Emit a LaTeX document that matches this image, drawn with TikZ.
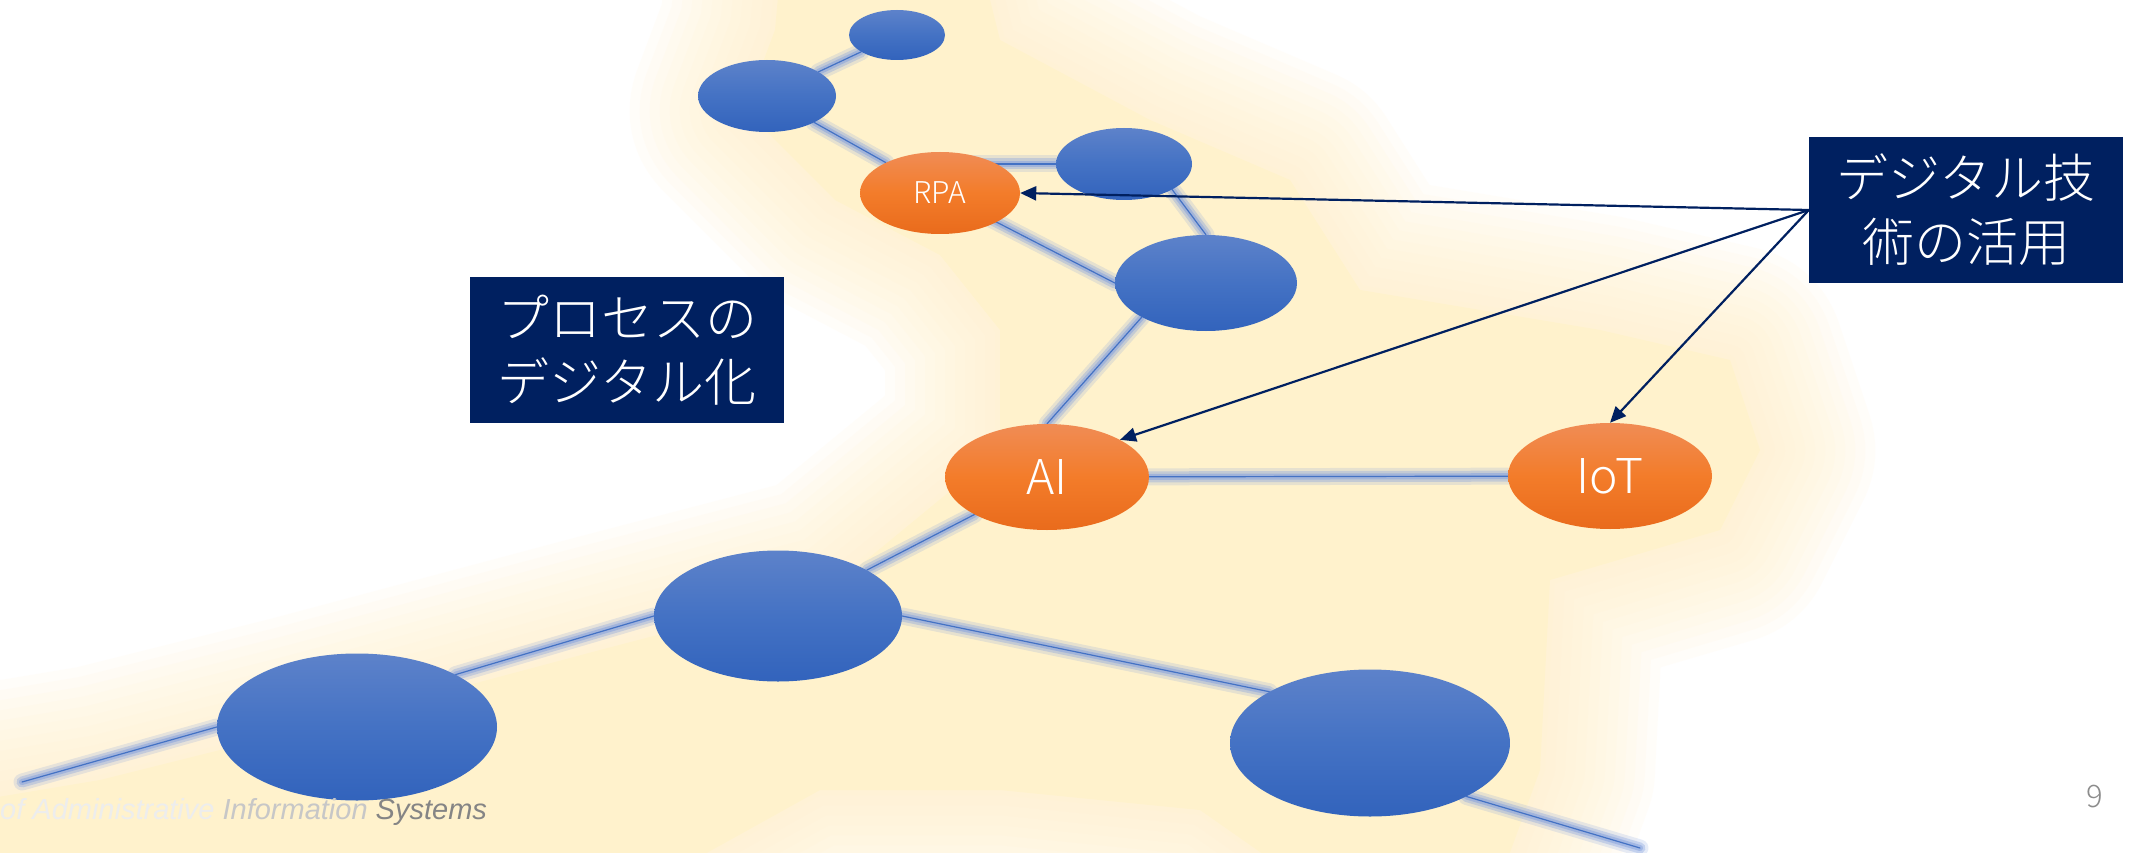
\documentclass[tikz,border=0pt]{standalone}
\usepackage{fontspec}
\setmainfont{Noto Sans CJK JP}[UprightFont=* Light]
\newfontfamily\footfont{Liberation Sans}
\usetikzlibrary{arrows.meta,shapes.geometric}
\definecolor{navy}{RGB}{0,32,96}
\definecolor{bluetop}{RGB}{93,130,202}
\definecolor{bluemid}{RGB}{68,114,196}
\definecolor{bluebot}{RGB}{50,99,188}
\definecolor{orgtop}{RGB}{240,140,85}
\definecolor{orgmid}{RGB}{243,124,42}
\definecolor{orgbot}{RGB}{233,107,28}
\definecolor{glowy}{RGB}{255,242,204}
\definecolor{glowb}{RGB}{130,160,222}
\definecolor{linkc}{RGB}{68,114,196}
\pgfdeclarelayer{glow}
\pgfdeclarelayer{edges}
\pgfsetlayers{glow,edges,main}
\def\glowpath{(-80,900) -- (-80,810) -- (100,780) -- (300,730) -- (600,650) -- (830,590) -- (1000,450) -- (1000,330) -- (940,255) -- (835,200) -- (745,110) -- (775,30) -- (785,-80) -- (970,-80) -- (1000,40) -- (1150,120) -- (1290,180) -- (1360,290) -- (1600,330) -- (1730,360) -- (1760,450) -- (1720,530) -- (1550,580) -- (1540,770) -- (1500,880) -- (1300,880) -- (1200,810) -- (1000,790) -- (820,790) -- (640,890) -- cycle}
\begin{document}
\begin{tikzpicture}[x=1pt, y=-1pt,
	blob/.style={ellipse, inner sep=0pt, top color=bluetop, bottom color=bluebot, middle color=bluemid},
	hot/.style={ellipse, inner sep=0pt, top color=orgtop, bottom color=orgbot, middle color=orgmid, text=white, minimum width=204pt, minimum height=106pt, font=\fontsize{48}{48}\selectfont},
	link/.style={draw=linkc, line width=1.2pt, line cap=round,
		preaction={draw=glowb, line width=17pt, line cap=round, draw opacity=0.2},
		preaction={draw=glowb, line width=11pt, line cap=round, draw opacity=0.35},
		preaction={draw=glowb, line width=6pt, line cap=round, draw opacity=0.5}},
	tag/.style={fill=navy, text=white, minimum width=314pt, minimum height=146pt, inner sep=0pt, align=center, font=\fontsize{52}{64}\selectfont},
	pointer/.style={draw=navy, line width=2.2pt, -{Triangle[length=16pt,width=14pt]}}]
	\useasboundingbox (0,0) rectangle (2139,853);
	\begin{pgfonlayer}{glow}
		\fill[white] (0,0) rectangle (2139,853);
		\foreach \w in {230,210,...,10} {
			\draw[glowy, line width=\w pt, line join=round, opacity=0.1] \glowpath;
		}
		\fill[glowy] \glowpath;
	\end{pgfonlayer}

	\node[blob, minimum width=96pt, minimum height=50pt] (top) at (897,35) {};
	\node[blob, minimum width=138pt, minimum height=72pt] (n2) at (767,96) {};
	\node[hot, minimum width=160pt, minimum height=82pt, font=\fontsize{30}{30}\selectfont] (rpa) at (940,193) {RPA};
	\node[blob, minimum width=136pt, minimum height=72pt] (n4) at (1124,164) {};
	\node[blob, minimum width=182pt, minimum height=96pt] (n5) at (1206,283) {};
	\node[hot] (ai) at (1047,477) {AI};
	\node[hot] (iot) at (1610,476) {IoT};
	\node[blob, minimum width=248pt, minimum height=131pt] (n8) at (778,616) {};
	\node[blob, minimum width=280pt, minimum height=147pt] (n9) at (357,727) {};
	\node[blob, minimum width=280pt, minimum height=147pt] (n10) at (1370,743) {};
	\coordinate (end1) at (22,782);
	\coordinate (end2) at (1640,848);

	\begin{pgfonlayer}{edges}
		\draw[link] (top) -- (n2);
		\draw[link] (n2) -- (rpa);
		\draw[link] (n4.west) -- (n4.west -| rpa.center);
		\draw[link] (n4.332) -- (n5.north);
		\draw[link] (rpa.center) -- (n5.west);
		\draw[link] (n5.208) -- (ai.north);
		\draw[link] (ai) -- (iot);
		\draw[link] (ai) -- (n8);
		\draw[link] (n8.west) -- (n9.28);
		\draw[link] (n9.west) -- (end1);
		\draw[link] (n8.east) -- (n10.153);
		\draw[link] (n10.331) -- (end2);
	\end{pgfonlayer}

	\node[tag] (proc) at (627,350) {プロセスの\\デジタル化};
	\node[tag] (tech) at (1966,210) {デジタル技\\術の活用};
	\draw[pointer] (tech.west) -- (rpa.east);
	\draw[pointer] (tech.west) -- (ai.27);
	\draw[pointer] (tech.west) -- (iot.north);

	\node[anchor=base west, inner sep=0pt, font=\footfont\itshape\fontsize{29}{29}\selectfont] (foot) at (0,819) {\textcolor{black!7}{of Administrative} \textcolor{black!22}{Information} \textcolor{black!48}{Systems}};
	\node[text=black!45, font=\fontsize{31}{31}\selectfont] (page) at (2095,797) {9};
\end{tikzpicture}
\end{document}
